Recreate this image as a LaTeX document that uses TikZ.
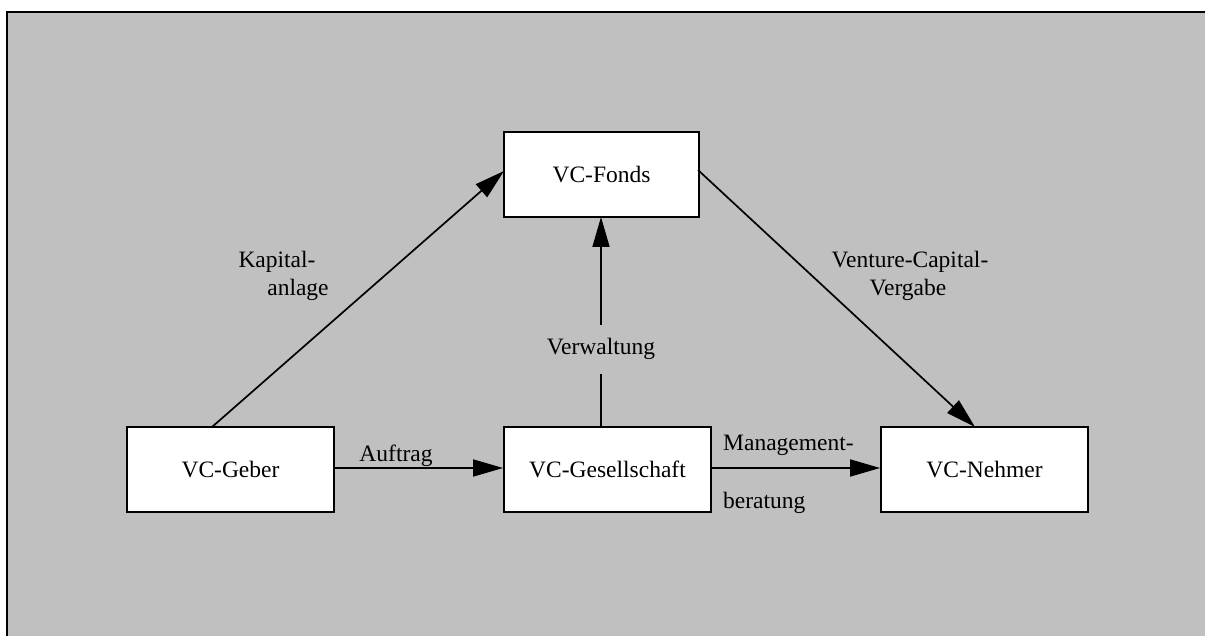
\documentclass[tikz,border=0pt]{standalone}
\usepackage{fontspec}
\setmainfont{Liberation Serif}
\usetikzlibrary{arrows.meta}
\definecolor{panelgray}{RGB}{192,192,192}
\begin{document}
\begin{tikzpicture}[x=1pt,y=-1pt,
  every node/.style={font=\fontsize{23.5}{26}\selectfont},
  box/.style={draw,line width=1.8pt,fill=white,minimum width=195pt,minimum height=85pt,inner sep=0pt},
  flow/.style={line width=1.7pt,-{Triangle[length=30pt,width=17pt]}},
  lbl/.style={inner sep=0pt,anchor=base}]
  \useasboundingbox (0,0) rectangle (1205,636);
  \clip (0,0) rectangle (1205,636);
  % panel
  \draw[line width=2pt,fill=panelgray] (7,12) rectangle (1220,650);
  % boxes
  \node[box,minimum width=195pt] (fonds) at (601.5,174.5) {VC-Fonds};
  \node[box,minimum width=207pt] (geber) at (230.5,469.5) {VC-Geber};
  \node[box,minimum width=207pt] (ges) at (607.5,469.5) {VC-Gesellschaft};
  \node[box,minimum width=207pt] (nehmer) at (984.5,469.5) {VC-Nehmer};
  % anchor points on the box edges
  \coordinate (gtop) at (212,427);
  \coordinate (fleft) at (504,171);
  \coordinate (fright) at (698,170);
  \coordinate (ntop) at (975,427);
  \coordinate (gestop) at (601,427);
  \coordinate (fbot) at (601,217);
  % connectors
  \draw[flow] (gtop) -- (fleft);
  \draw[flow] (fright) -- (ntop);
  \draw[flow] (geber.east |- 0,468) -- (ges.west |- 0,468);
  \draw[flow] (ges.east |- 0,468) -- (nehmer.west |- 0,468);
  \draw[flow] (gestop) -- node[fill=panelgray,inner xsep=0pt,inner ysep=14pt,pos=0.37] (verw) {Verwaltung} (fbot);
  % labels
  \node[lbl] (kap1) at (277,268) {Kapital-};
  \node[lbl] (kap2) at (298,296) {anlage};
  \node[lbl] (vcv1) at (910,268) {Venture-Capital-};
  \node[lbl] (vcv2) at (908,296) {Vergabe};
  \node[lbl] (auf) at (396,461) {Auftrag};
  \node[lbl,anchor=base west] (man1) at (723,450) {Management-};
  \node[lbl,anchor=base west] (man2) at (723,508) {beratung};
\end{tikzpicture}
\end{document}
